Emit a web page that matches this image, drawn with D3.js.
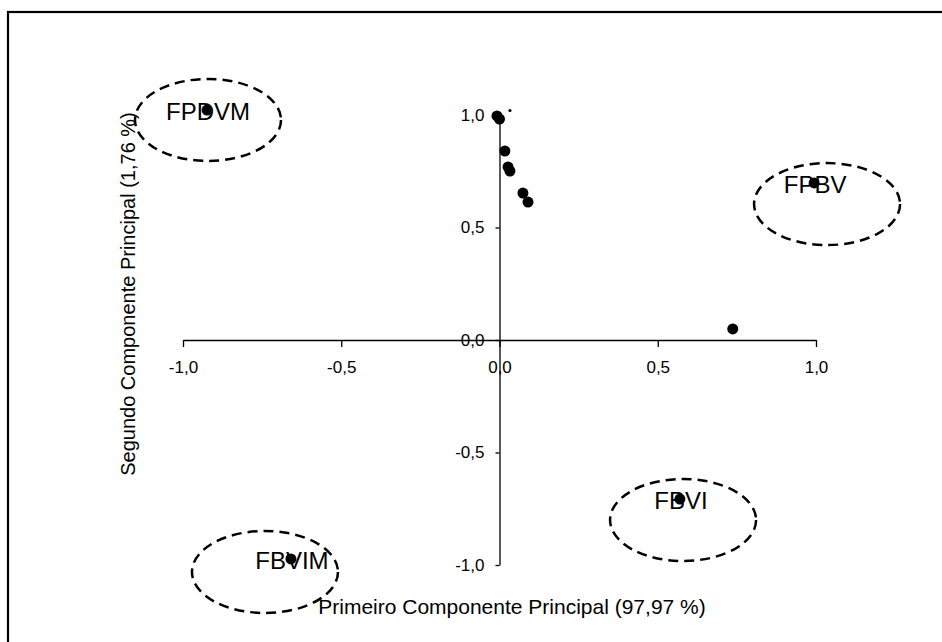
<!DOCTYPE html>
<html>
<head>
<meta charset="utf-8">
<script src="https://cdn.jsdelivr.net/npm/d3@7"></script>
<style>
  html, body { margin: 0; padding: 0; background: #fff; }
  svg { display: block; }
  text { font-family: "Liberation Sans", Arial, sans-serif; fill: #000; }
</style>
</head>
<body>
<svg id="chart" width="942" height="642"></svg>
<script>
// Loadings on the first two principal components
const pc1 = [-0.008, 0.000, 0.017, 0.027, 0.033, 0.074, 0.090, 0.737];
const pc2 = [0.996, 0.982, 0.840, 0.769, 0.751, 0.653, 0.613, 0.049];

// Small marker sitting just right of the top of the vertical axis
const minorX = [0.033];
const minorY = [1.020];

// Labelled samples
const groupNames = ["FPDVM", "FPBV", "FBVI", "FBVIM"];
const groupX = [-0.924, 0.994, 0.570, -0.659];
const groupY = [1.022, 0.698, -0.707, -0.973];

// Centres of the dashed ellipses around each labelled sample
const ringX = [-0.921, 1.035, 0.580, -0.741];
const ringY = [0.978, 0.604, -0.800, -1.031];

const tickValues = [-1, -0.5, 0, 0.5, 1];
const fmt = v => v.toFixed(1).replace(".", ",");

const xTitle = "Primeiro Componente Principal (97,97 %)";
const yTitle = "Segundo Componente Principal (1,76 %)";

const svg = d3.select("#chart");

// Outer frame
svg.append("rect")
  .attr("x", 8).attr("y", 12)
  .attr("width", 960).attr("height", 660)
  .attr("fill", "none").attr("stroke", "#000").attr("stroke-width", 2.2);

const x = d3.scaleLinear().domain([-1, 1]).range([183, 816]);
const y = d3.scaleLinear().domain([-1, 1]).range([565, 115]);

// Horizontal axis through y = 0
const xAxis = d3.axisBottom(x).tickValues(tickValues).tickFormat(fmt)
  .tickSizeInner(7).tickSizeOuter(0).tickPadding(14);
const gx = svg.append("g").attr("transform", `translate(0,${y(0)})`).call(xAxis);
gx.select(".domain").attr("stroke", "#000").attr("stroke-width", 1.3);
gx.selectAll(".tick line").attr("stroke", "#000").attr("stroke-width", 1.3);
gx.selectAll(".tick text").attr("font-size", 17)
  .attr("font-family", "Liberation Sans, Arial, sans-serif");

// Vertical axis through x = 0
const yAxis = d3.axisLeft(y).tickValues(tickValues).tickFormat(fmt)
  .tickSizeInner(4).tickSizeOuter(0).tickPadding(11);
const gy = svg.append("g").attr("transform", `translate(${x(0)},0)`).call(yAxis);
gy.select(".domain").attr("stroke", "#000").attr("stroke-width", 1.3);
gy.selectAll(".tick line").attr("stroke", "#000").attr("stroke-width", 1.3);
gy.selectAll(".tick text").attr("font-size", 17)
  .attr("font-family", "Liberation Sans, Arial, sans-serif");

// Axis titles
svg.append("text")
  .attr("x", 512).attr("y", 614)
  .attr("text-anchor", "middle").attr("font-size", 21)
  .text(xTitle);

svg.append("text")
  .attr("transform", "translate(135,294) rotate(-90)")
  .attr("text-anchor", "middle").attr("font-size", 20)
  .text(yTitle);

// Dashed ellipses
svg.append("g").selectAll("ellipse")
  .data(groupNames.map((n, i) => ({ cx: ringX[i], cy: ringY[i] })))
  .join("ellipse")
  .attr("cx", d => x(d.cx)).attr("cy", d => y(d.cy))
  .attr("rx", 73).attr("ry", 41)
  .attr("fill", "none").attr("stroke", "#000")
  .attr("stroke-width", 2.5).attr("stroke-dasharray", "10,6");

// Sample labels
const groups = groupNames.map((n, i) => ({ name: n, x: groupX[i], y: groupY[i] }));
svg.append("g").selectAll("text")
  .data(groups)
  .join("text")
  .attr("x", d => x(d.x) + 1).attr("y", d => y(d.y) + 10)
  .attr("text-anchor", "middle").attr("font-size", 24)
  .text(d => d.name);

// Points
const pts = pc1.map((v, i) => ({ x: v, y: pc2[i] })).concat(groups);
svg.append("g").selectAll("circle")
  .data(pts)
  .join("circle")
  .attr("cx", d => x(d.x)).attr("cy", d => y(d.y))
  .attr("r", 5.5).attr("fill", "#000");

svg.append("g").selectAll("circle")
  .data(minorX.map((v, i) => ({ x: v, y: minorY[i] })))
  .join("circle")
  .attr("cx", d => x(d.x)).attr("cy", d => y(d.y))
  .attr("r", 1.6).attr("fill", "#000");
</script>
</body>
</html>
